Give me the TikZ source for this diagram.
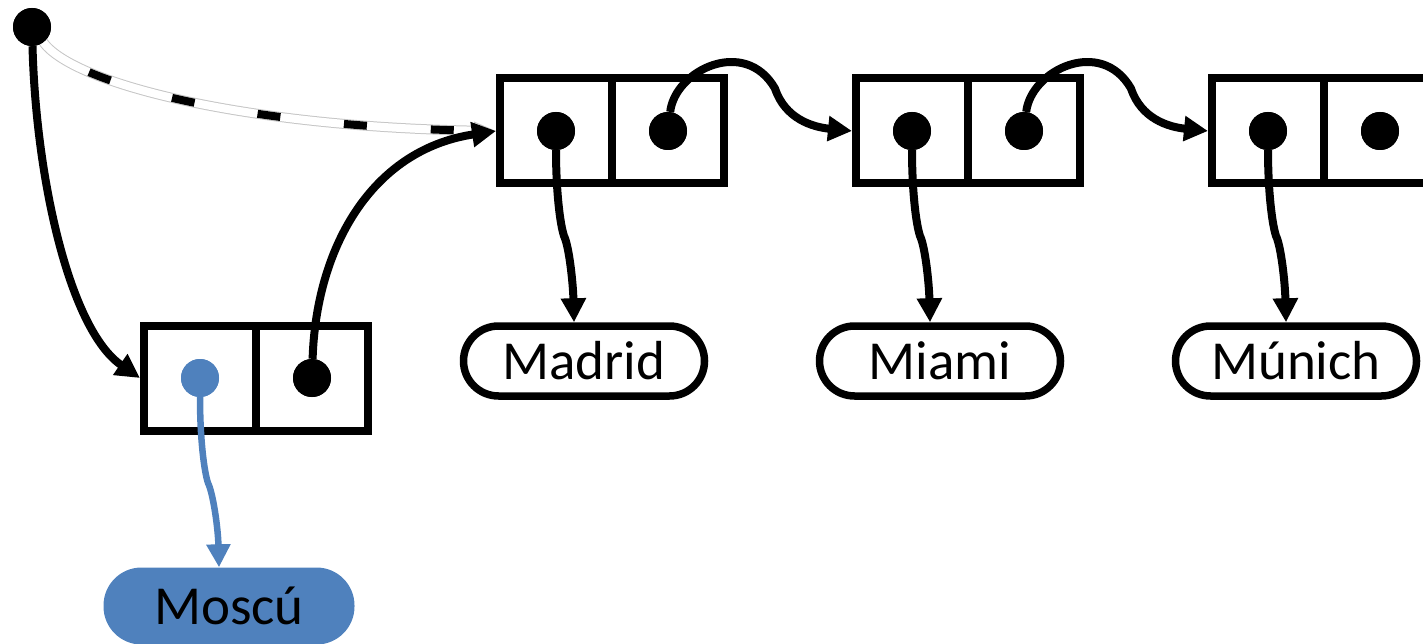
\documentclass[tikz,border=0pt]{standalone}
\usepackage{fontspec}
\setmainfont{Carlito}
\usetikzlibrary{arrows.meta,calc}
\definecolor{obl}{RGB}{79,129,189}
\begin{document}
\begin{tikzpicture}[x=1pt,y=-1pt,
  cell/.style={draw, line width=8pt, minimum width=112pt, minimum height=105pt, inner sep=0pt},
  dot/.style={circle, fill=black, minimum size=38pt, inner sep=0pt},
  bdot/.style={circle, fill=obl, minimum size=38pt, inner sep=0pt},
  pill/.style={draw, line width=7.5pt, rounded corners=35pt, minimum width=241pt, minimum height=70pt, inner sep=0pt, font=\fontsize{55}{60}\selectfont},
  bpill/.style={fill=obl, rounded corners=38pt, minimum width=251pt, minimum height=77pt, inner sep=0pt, font=\fontsize{55}{60}\selectfont},
  link/.style={line width=8pt, -{Triangle[length=24pt,width=24pt]}},
  blink/.style={obl, line width=6.5pt, -{Triangle[length=23pt,width=23pt]}}
]
\useasboundingbox (0,0) rectangle (1423,644);

% cells
\node[cell] (a1) at (200,378) {};
\node[cell] (a2) at (312,378) {};
\node[cell] (b1) at (556,131) {};
\node[cell] (b2) at (668,131) {};
\node[cell] (c1) at (912,131) {};
\node[cell] (c2) at (1024,131) {};
\node[cell] (d1) at (1268,131) {};
\node[cell] (d2) at (1380,131) {};

% value pills
\node[pill] (mad) at (584,361) {Madrid};
\node[pill] (mia) at (940,361) {Miami};
\node[pill] (mun) at (1296,361) {Múnich};
\node[bpill] (mos) at (229,606) {Moscú};

% dots
\node[dot] (top) at (32,27) {};
\node[bdot] (pa1) at (a1) {};
\node[dot] (pa2) at (a2) {};
\node[dot] (pb1) at (b1) {};
\node[dot] (pb2) at (b2) {};
\node[dot] (pc1) at (c1) {};
\node[dot] (pc2) at (c2) {};
\node[dot] (pd1) at (d1) {};
\node[dot] (pd2) at (d2) {};

% removed (ghost) pointer from head to Madrid cell
\draw[gray!45, line width=1pt, -{Triangle[open, length=22pt, width=18pt]}]
  (top) .. controls (75,85) and (250,127) .. (b1.west);
\draw[gray!45, line width=10pt, shorten >=21pt]
  (top) .. controls (75,85) and (250,127) .. (b1.west);
\draw[white, line width=8pt, shorten >=21pt]
  (top) .. controls (75,85) and (250,127) .. (b1.west);
\draw[black, line width=8pt, dash pattern=on 23pt off 64pt, dash phase=32pt, shorten >=21pt]
  (top) .. controls (75,85) and (250,127) .. (b1.west);

% head to Moscu cell
\draw[link] (top) .. controls (36,180) and (70,330) .. (a1.west);
% Moscu next to Madrid
\draw[link] (pa2) .. controls (316,250) and (370,150) .. (b1.west);

% next pointers
\coordinate (kb) at ($(b2.north east)+(47,14)$);
\draw[link] (pb2) .. controls ($(b2)+(7,-61)$) and ($(kb)+(-30,-52)$) .. (kb)
  .. controls ($(kb)+(10,30)$) and ($(c1.west)+(-40,-4)$) .. (c1.west);
\coordinate (kc) at ($(c2.north east)+(47,14)$);
\draw[link] (pc2) .. controls ($(c2)+(7,-61)$) and ($(kc)+(-30,-52)$) .. (kc)
  .. controls ($(kc)+(10,30)$) and ($(d1.west)+(-40,-4)$) .. (d1.west);

% value pointers
\coordinate (kmad) at ($(b1)+(8,105)$);
\draw[link] (pb1) .. controls ($(b1)+(0,60)$) and ($(kmad)+(-4,-12)$) .. (kmad)
  .. controls ($(kmad)+(5,10)$) and ($(mad.north)+(-11,-40)$) .. ($(mad.north)+(-10,0)$);
\coordinate (kmia) at ($(c1)+(8,105)$);
\draw[link] (pc1) .. controls ($(c1)+(0,60)$) and ($(kmia)+(-4,-12)$) .. (kmia)
  .. controls ($(kmia)+(5,10)$) and ($(mia.north)+(-11,-40)$) .. ($(mia.north)+(-10,0)$);
\coordinate (kmun) at ($(d1)+(8,105)$);
\draw[link] (pd1) .. controls ($(d1)+(0,60)$) and ($(kmun)+(-4,-12)$) .. (kmun)
  .. controls ($(kmun)+(5,10)$) and ($(mun.north)+(-11,-40)$) .. ($(mun.north)+(-10,0)$);
\coordinate (kmos) at ($(a1)+(8,105)$);
\draw[blink] (pa1) .. controls ($(a1)+(0,60)$) and ($(kmos)+(-4,-12)$) .. (kmos)
  .. controls ($(kmos)+(5,10)$) and ($(mos.north)+(-11,-40)$) .. ($(mos.north)+(-10,0)$);

% redraw dots on top
\node[dot] at (top) {};
\node[bdot] at (pa1) {};
\node[dot] at (pa2) {};
\node[dot] at (pb1) {};
\node[dot] at (pb2) {};
\node[dot] at (pc1) {};
\node[dot] at (pc2) {};
\node[dot] at (pd1) {};
\node[dot] at (pd2) {};
\end{tikzpicture}
\end{document}
